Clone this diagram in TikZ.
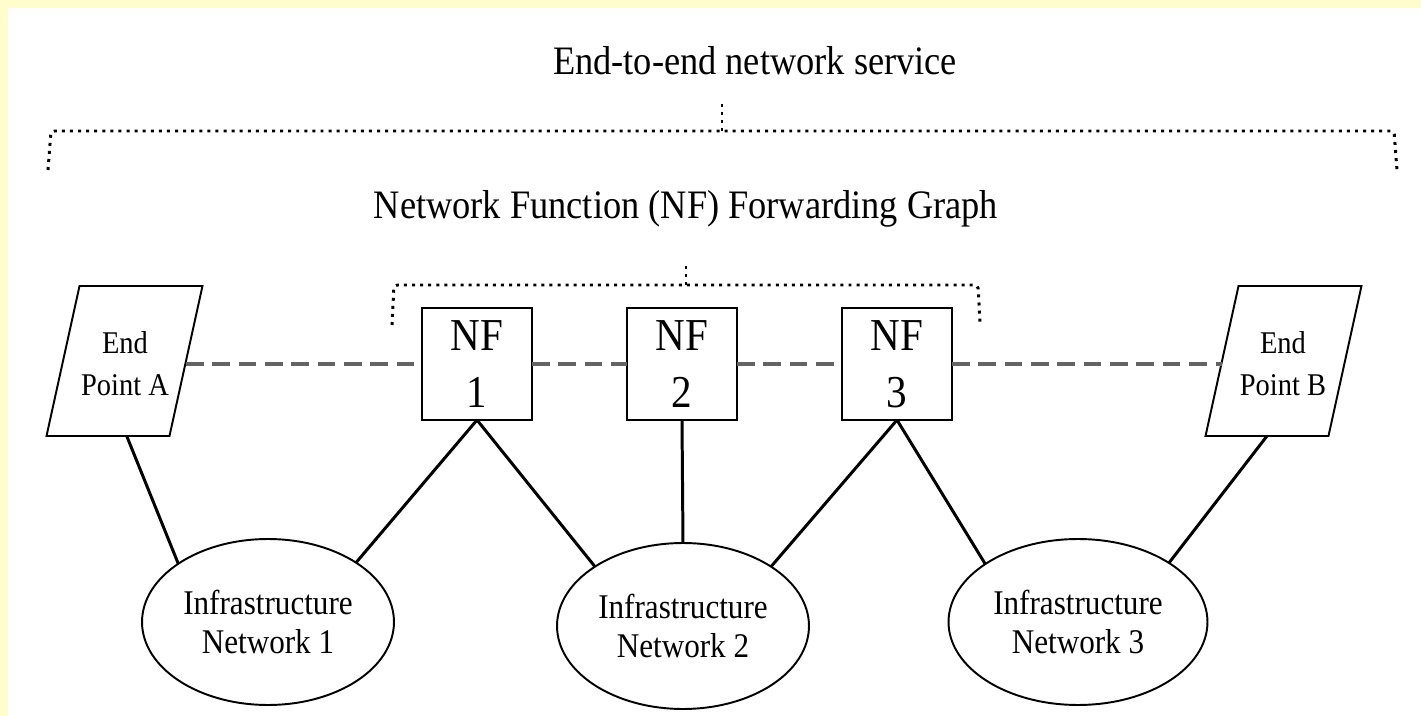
\documentclass[tikz,border=0pt]{standalone}
\usepackage{fontspec}
\setmainfont[FakeStretch=0.9]{Liberation Serif}
\usetikzlibrary{shapes.geometric,calc}

\definecolor{pageyellow}{RGB}{255,253,204}
\definecolor{flowgray}{RGB}{100,100,100}

\tikzset{
  nfbox/.style={draw,line width=1.1pt,minimum width=2.2cm,minimum height=2.24cm,
    inner sep=0pt,outer sep=0pt,align=center,font=\fontsize{26}{32.4}\selectfont},
  epbox/.style={draw,line width=1.1pt,minimum width=2.46cm,minimum height=3cm,
    inner sep=0pt,outer sep=0pt,xslant=0.22,transform shape},
  eplabel/.style={align=center,inner sep=0pt,font=\fontsize{18}{23.8}\selectfont},
  infra/.style={draw,ellipse,line width=1.1pt,minimum width=5.04cm,minimum height=3.32cm,
    inner sep=0pt,outer sep=0pt,align=center,font=\fontsize{19.7}{22.7}\selectfont},
  heading/.style={anchor=base,inner sep=0pt,font=\fontsize{23}{28}\selectfont},
  brace/.style={line width=1.7pt,dash pattern=on 1.7pt off 2.9pt,rounded corners=2pt},
  link/.style={line width=1.7pt},
  flow/.style={flowgray,line width=2.3pt,dash pattern=on 10pt off 5pt}
}

\begin{document}
\begin{tikzpicture}[x=0.02cm,y=-0.02cm]

\fill[pageyellow] (0,0) rectangle (1421,716);
\fill[white] (8,8) rectangle (1421,716);
\useasboundingbox (0,0) rectangle (1421,716);

% headings
\node[heading] (service) at (755,75) {End-to-end network service};
\node[heading] (fwdgraph) at (686,219) {Network Function (NF) Forwarding Graph};

% braces
\path (722,131) coordinate (BigTick);
\path (722,100) coordinate (BigTop);
\path (686,285) coordinate (SmallTick);
\path (686,263) coordinate (SmallTop);

\draw[brace] (48,170) -- (51,131) -- (1394,131) -- (1397,170);
\draw[brace] (BigTick) -- (BigTop);
\draw[brace] (392,325) -- (394,285) -- (978,285) -- (980,322);
\draw[brace] (SmallTick) -- (SmallTop);

% end points
\node[epbox] (epA) at (124.5,361) {};
\node[eplabel] (epAtext) at (125,363.5) {End\\Point A};
\node[epbox] (epB) at (1283.5,361) {};
\node[eplabel] (epBtext) at (1283,363.5) {End\\Point B};

% network functions
\node[nfbox] (nf1) at (477,364) {NF\\1};
\node[nfbox] (nf2) at (682,364) {NF\\2};
\node[nfbox] (nf3) at (897,364) {NF\\3};

% infrastructure networks
\node[infra] (inet1) at (268,622) {Infrastructure\\Network 1};
\node[infra] (inet2) at (683,626) {Infrastructure\\Network 2};
\node[infra,minimum width=5.18cm] (inet3) at (1078,622) {Infrastructure\\Network 3};

\draw[flow] (epA.east |- nf1.west) -- (nf1.west);
\draw[flow] (nf1.east) -- (nf2.west);
\draw[flow] (nf2.east) -- (nf3.west);
\draw[flow] (nf3.east) -- (nf3.east -| epB.west);

\draw[link] (epA.-76) -- (inet1.147);
\draw[link] (nf1.south) -- (inet1.34);
\draw[link] (nf1.south) -- (inet2.146);
\draw[link] (nf2.south) -- (inet2.north);
\draw[link] (nf3.south) -- (inet2.34);
\draw[link] (nf3.south) -- (inet3.148);
\draw[link] (epB.south) -- (inet3.33);
\end{tikzpicture}
\end{document}
